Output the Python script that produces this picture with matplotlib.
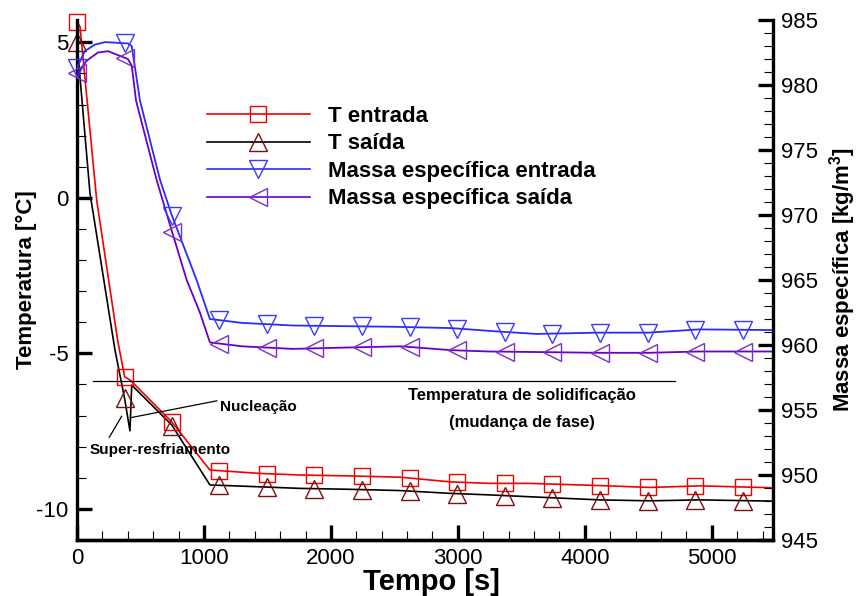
import numpy as np
import matplotlib.pyplot as plt
from matplotlib.lines import Line2D
from matplotlib.font_manager import FontProperties

plt.rcParams['font.family'] = ['Liberation Sans', 'DejaVu Sans']
plt.rcParams['axes.unicode_minus'] = False

# temperatura de entrada / saida [C] vs tempo [s]
t_Tin = [0, 24, 155, 181, 320, 375, 422, 746, 1047, 1441, 1756, 2150, 2543,
         2937, 3252, 3567, 4118, 4512, 4906, 5480]
T_in = [5.67, 5.5, -0.07, -0.78, -4.57, -5.75, -5.87, -7.2, -8.75, -8.86, -8.91,
        -8.94, -8.98, -9.13, -9.18, -9.18, -9.25, -9.31, -9.26, -9.32]

t_Tout = [0, 102, 299, 375, 417, 431, 746, 1047, 1441, 1756, 2150, 2543, 2937,
          3252, 3567, 4118, 4512, 4906, 5480]
T_out = [5.0, 0.16, -4.89, -6.45, -7.49, -6.02, -7.3, -9.23, -9.29, -9.34, -9.37,
         -9.41, -9.50, -9.55, -9.61, -9.71, -9.74, -9.71, -9.75]

# massa especifica [kg/m3]
t_rin = [0, 60, 140, 220, 400, 431, 496, 654, 746, 942, 1047, 1300, 1700, 2500,
         2950, 3300, 3620, 4100, 4500, 4900, 5480]
rho_in = [981.3, 982.6, 983.1, 983.3, 983.2, 983.0, 978.8, 972.7, 970.0, 965.0,
          962.0, 961.7, 961.5, 961.4, 961.3, 961.05, 960.85, 960.95, 960.95,
          961.2, 961.15]

t_rout = [0, 80, 165, 245, 400, 431, 465, 627, 746, 864, 968, 1047, 1300, 1700,
          2100, 2550, 2950, 3250, 3700, 4100, 4500, 4900, 5480]
rho_out = [980.9, 981.9, 982.5, 982.6, 982.0, 981.5, 978.8, 972.7, 968.8, 965.0,
           962.5, 960.2, 959.9, 959.7, 959.8, 959.9, 959.6, 959.5, 959.45, 959.4,
           959.4, 959.5, 959.5]

marker_t = [0, 375, 750, 1120, 1495, 1870, 2245, 2620, 2995, 3370, 3745, 4120,
            4495, 4870, 5245]

T_solid = -5.9
t_solid = [123, 4709]

labels = ['T entrada', 'T saída', 'Massa específica entrada', 'Massa específica saída']

fig = plt.figure(figsize=(8.59, 5.96), dpi=100)
ax = fig.add_axes([77 / 859, 56 / 596, 695.7 / 859, 520 / 596])
ax2 = ax.twinx()

red, maroon = '#f00000', '#7a1010'
blue, blue_m = '#2a2aff', '#3a3aff'
purple, purple_m = '#6a00c8', '#7a30c8'

ax.plot(t_Tin, T_in, color=red, lw=1.2)
ax.plot(t_Tout, T_out, color='black', lw=1.2)
ax.plot(marker_t, np.interp(marker_t, t_Tin, T_in), ls='none', marker='s', ms=12,
        mfc='none', mec=red, mew=1.0, clip_on=False)
ax.plot(marker_t, np.interp(marker_t, t_Tout, T_out), ls='none', marker='^', ms=13,
        mfc='none', mec=maroon, mew=1.0, clip_on=False)

ax2.plot(t_rin, rho_in, color=blue, lw=1.3)
ax2.plot(t_rout, rho_out, color=purple, lw=1.3)
ax2.plot(marker_t, np.interp(marker_t, t_rin, rho_in), ls='none', marker='v', ms=13,
         mfc='none', mec=blue_m, mew=1.0, clip_on=False)
ax2.plot(marker_t, np.interp(marker_t, t_rout, rho_out), ls='none', marker='<', ms=13,
         mfc='none', mec=purple_m, mew=1.0, clip_on=False)

# linha de solidificacao e anotacoes
ax.plot(t_solid, [T_solid, T_solid], color='black', lw=0.9)
ax.text(3507, -6.34, 'Temperatura de solidificação', fontsize=12, weight='bold',
        ha='center', va='center')
ax.text(3507, -7.23, '(mudança de fase)', fontsize=12, weight='bold',
        ha='center', va='center')
ax.plot([1101, 431], [-6.525, -7.06], color='black', lw=0.9)
ax.text(1127, -6.73, 'Nucleação', fontsize=11, weight='bold', ha='left', va='center')
ax.plot([254, 352], [-7.70, -7.02], color='black', lw=0.9)
ax.text(97, -8.11, 'Super-resfriamento', fontsize=11, weight='bold', ha='left', va='center')

# eixos
ax.set_xlim(0, 5480)
ax.set_ylim(-11, 5.72)
ax2.set_ylim(945, 985)
ax.set_xticks(range(0, 5001, 1000))
ax.set_xticks(range(0, 5480, 200), minor=True)
ax.set_yticks([-10, -5, 0, 5])
ax.set_yticks(range(-11, 6), minor=True)
ax2.set_yticks(range(945, 986, 5))
ax2.set_yticks(range(945, 986), minor=True)

for a in (ax, ax2):
    a.spines['top'].set_visible(False)
    for s in ('left', 'right', 'bottom'):
        a.spines[s].set_linewidth(2.4)
    a.tick_params(which='major', direction='in', length=11, width=2.4,
                  labelsize=16, pad=6)
    a.tick_params(which='minor', direction='in', length=6.5, width=0.8)
ax.tick_params(which='both', right=False)
ax.spines['right'].set_visible(False)
ax2.spines['left'].set_visible(False)

ax.set_xlabel('Tempo [s]', fontsize=21, weight='bold')
ax.xaxis.set_label_coords(0.509, -0.054)
ax.set_ylabel('Temperatura [°C]', fontsize=16, weight='bold', ha='center', va='center')
ax.yaxis.set_label_coords(-0.072, 0.5)
ax2.set_ylabel('Massa específica [kg/m$^\\mathregular{3}$]', fontsize=16,
               weight='bold', ha='center', va='center')
ax2.yaxis.set_label_coords((843 - 77) / 695.7, 0.5)

handles = [
    Line2D([], [], color=red, lw=1.2, marker='s', ms=12, mfc='none', mec=red),
    Line2D([], [], color='black', lw=1.2, marker='^', ms=13, mfc='none', mec=maroon),
    Line2D([], [], color=blue, lw=1.2, marker='v', ms=13, mfc='none', mec=blue_m),
    Line2D([], [], color=purple, lw=1.2, marker='<', ms=13, mfc='none', mec=purple_m),
]
leg_font = FontProperties(family=['Liberation Sans'], weight='bold', size=16)
fig.legend(handles, labels, loc='upper left', bbox_to_anchor=(206.7 / 859, 1 - 106 / 596),
           frameon=False, numpoints=1, prop=leg_font,
           handlelength=4.65, handletextpad=0.82, labelspacing=0.29,
           borderpad=0, borderaxespad=0)

fig.savefig('out.png', dpi=100)
